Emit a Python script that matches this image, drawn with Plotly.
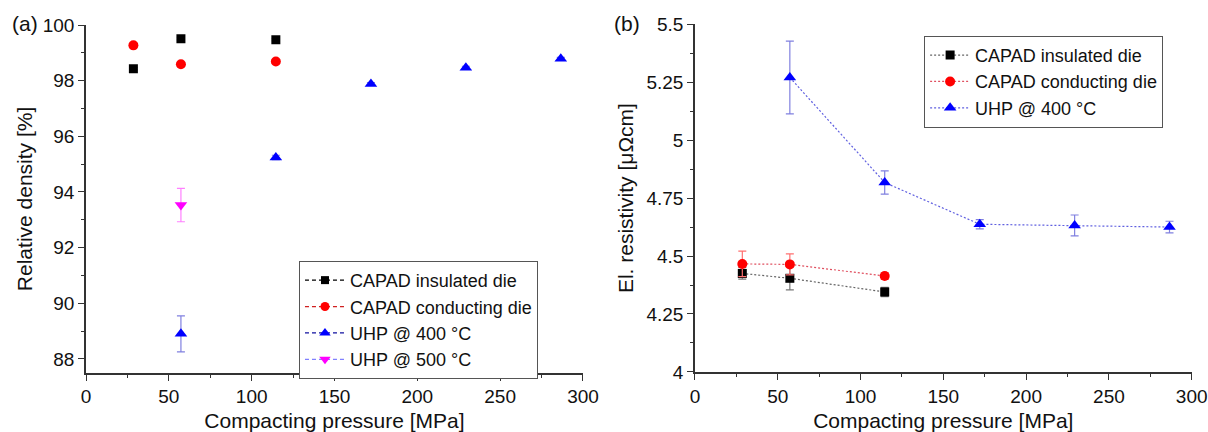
import plotly.graph_objects as go

# ---- data ----
p_capad = [28.6, 57.3, 114.6]
p_uhp400 = [57.3, 114.6, 172.0, 229.3, 286.6]
p_uhp500 = [57.3]

dens_insulated = [98.43, 99.51, 99.47]
dens_insulated_err = [0.04, 0.04, 0.04]
dens_conducting = [99.27, 98.59, 98.69]
dens_conducting_err = [0.08, 0.04, 0.04]
dens_uhp400 = [88.9, 95.24, 97.88, 98.47, 98.79]
dens_uhp400_err = [0.65, 0.08, 0.05, 0.05, 0.05]
dens_uhp500 = [93.53]
dens_uhp500_err = [0.6]

res_insulated = [4.425, 4.404, 4.345]
res_insulated_err = [0.025, 0.05, 0.02]
res_conducting = [4.466, 4.464, 4.414]
res_conducting_err = [0.055, 0.045, 0.015]
res_uhp400 = [5.27, 4.817, 4.637, 4.632, 4.625]
res_uhp400_err = [0.157, 0.05, 0.02, 0.045, 0.025]

names_a = ["CAPAD insulated die", "CAPAD conducting die", "UHP @ 400 °C", "UHP @ 500 °C"]
names_b = ["CAPAD insulated die", "CAPAD conducting die", "UHP @ 400 °C"]

FONT = "Liberation Sans, Arial, sans-serif"
AX = "#333333"

fig = go.Figure()

# ---- panel (a): markers with error bars ----
series_a = [
    (p_capad, dens_insulated, dens_insulated_err, "black", "square", 9, "#555555", "black"),
    (p_capad, dens_conducting, dens_conducting_err, "red", "circle", 10, "#ff8080", "#d02020"),
    (p_uhp400, dens_uhp400, dens_uhp400_err, "blue", "triangle-up", 11, "#8080e0", "#1010a0"),
    (p_uhp500, dens_uhp500, dens_uhp500_err, "magenta", "triangle-down", 11, "#ff80ff", "#8080ff"),
]
for (xs, ys, es, col, sym, sz, ecol, lcol), nm in zip(series_a, names_a):
    fig.add_trace(go.Scatter(
        x=xs, y=ys, mode="markers", xaxis="x", yaxis="y", showlegend=False,
        marker=dict(color=col, symbol=sym, size=sz, line=dict(width=0)),
        error_y=dict(type="data", array=es, color=ecol, thickness=1.2, width=4),
    ))
    # legend entry (dashed line + marker)
    fig.add_trace(go.Scatter(
        x=[None], y=[None], mode="lines+markers", xaxis="x", yaxis="y", name=nm,
        legend="legend",
        marker=dict(color=col, symbol=sym, size=sz - 1, line=dict(width=0)),
        line=dict(color=lcol, dash="4px,3px", width=1.2),
    ))

# ---- panel (b): dotted lines + markers with error bars ----
series_b = [
    (p_capad, res_insulated, res_insulated_err, "black", "square", 9, "#777777", "#666666"),
    (p_capad, res_conducting, res_conducting_err, "red", "circle", 10, "#ff7070", "#e05060"),
    (p_uhp400, res_uhp400, res_uhp400_err, "blue", "triangle-up", 11, "#8080e0", "#6060e0"),
]
for (xs, ys, es, col, sym, sz, ecol, lcol), nm in zip(series_b, names_b):
    fig.add_trace(go.Scatter(
        x=xs, y=ys, mode="lines+markers", xaxis="x2", yaxis="y2", name=nm,
        legend="legend2",
        marker=dict(color=col, symbol=sym, size=sz, line=dict(width=0)),
        line=dict(color=lcol, dash="2px,2px", width=1.2),
        error_y=dict(type="data", array=es, color=ecol, thickness=1.2, width=4),
    ))

axis_common = dict(
    showline=True, linecolor=AX, linewidth=1.6, mirror=False,
    ticks="outside", ticklen=6, tickwidth=1.4, tickcolor=AX,
    showgrid=False, zeroline=False, automargin=False,
    tickfont=dict(family=FONT, size=19, color="#111"),
    title_font=dict(family=FONT, size=21, color="#111"),
)
minor_common = dict(ticks="outside", ticklen=3, tickwidth=1.2, tickcolor=AX, showgrid=False)

fig.update_layout(
    width=1208, height=432,
    margin=dict(l=0, r=0, t=0, b=0, autoexpand=False),
    paper_bgcolor="white", plot_bgcolor="white",
    font=dict(family=FONT, color="#111"),
    xaxis=dict(domain=[0.0712, 0.4826], range=[0, 300], dtick=50, anchor="y",
               minor=dict(dtick=25, **minor_common),
               title=dict(text="Compacting pressure [MPa]", standoff=17), **axis_common),
    yaxis=dict(domain=[0.137, 0.942], range=[87.5, 100], tickvals=[88, 90, 92, 94, 96, 98, 100],
               anchor="x", minor=dict(tickvals=[89, 91, 93, 95, 97, 99], **minor_common),
               title=dict(text="Relative density [%]", standoff=4), **axis_common),
    xaxis2=dict(domain=[0.5753, 0.9865], range=[0, 300], dtick=50, anchor="y2",
                minor=dict(dtick=25, **minor_common),
                title=dict(text="Compacting pressure [MPa]", standoff=17), **axis_common),
    yaxis2=dict(domain=[0.139, 0.944], range=[4, 5.5], dtick=0.25, tick0=4, anchor="x2",
                minor=dict(dtick=0.125, **minor_common),
                title=dict(text="El. resistivity [μΩcm]", standoff=7), **axis_common),
    legend=dict(x=0.2475, y=0.396, xanchor="left", yanchor="top",
                bordercolor="#555", borderwidth=1, bgcolor="white",
                font=dict(family=FONT, size=18, color="#111"),
                itemwidth=40, tracegroupgap=0),
    legend2=dict(x=0.765, y=0.917, xanchor="left", yanchor="top",
                 bordercolor="#555", borderwidth=1, bgcolor="white",
                 font=dict(family=FONT, size=18, color="#111"),
                 itemwidth=40, tracegroupgap=0),
    annotations=[
        dict(text="(a)", x=0.008, y=0.945, xref="paper", yref="paper", xanchor="left",
             yanchor="middle", showarrow=False, font=dict(family=FONT, size=21, color="#111")),
        dict(text="(b)", x=0.507, y=0.945, xref="paper", yref="paper", xanchor="left",
             yanchor="middle", showarrow=False, font=dict(family=FONT, size=21, color="#111")),
    ],
)

fig.write_html("out.html", config={"displayModeBar": False},
               post_script="document.body.style.margin='0';")
